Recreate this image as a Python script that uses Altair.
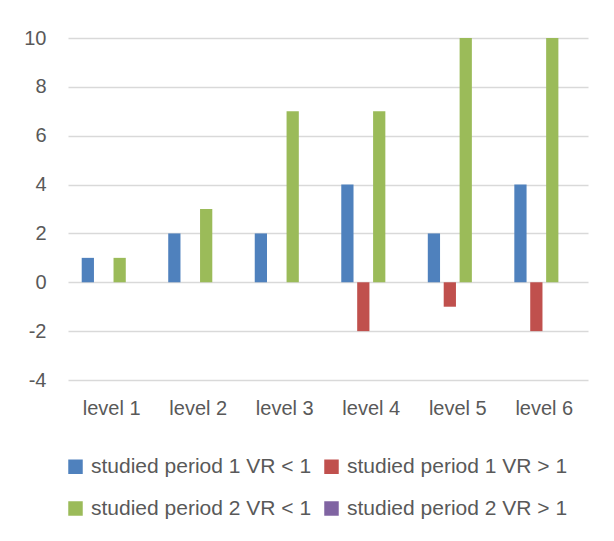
import altair as alt
import pandas as pd

levels = ["level 1", "level 2", "level 3", "level 4", "level 5", "level 6"]
series = [
    "studied period 1 VR < 1",
    "studied period 1 VR > 1",
    "studied period 2 VR < 1",
    "studied period 2 VR > 1",
]
p1_lt = [1, 2, 2, 4, 2, 4]
p1_gt = [0, 0, 0, -2, -1, -2]
p2_lt = [1, 3, 7, 7, 10, 10]
p2_gt = [0, 0, 0, 0, 0, 0]
colors = ["#4f81bd", "#c0504d", "#9bbb59", "#8064a2"]

rows = []
for s, vals in zip(series, [p1_lt, p1_gt, p2_lt, p2_gt]):
    for lv, v in zip(levels, vals):
        rows.append({"level": lv, "series": s, "value": v})
df = pd.DataFrame(rows)

font = "Liberation Sans"
fs = 20

chart = alt.Chart(df).mark_bar().encode(
    x=alt.X("level:N", sort=levels, title=None,
            scale=alt.Scale(paddingInner=0.27, paddingOuter=0.14),
            axis=alt.Axis(labelAngle=0, domain=False, ticks=False, grid=False,
                          labelFontSize=fs, labelColor="#595959", labelFont=font,
                          labelPadding=18)),
    xOffset=alt.XOffset("series:N", sort=series,
                        scale=alt.Scale(paddingInner=0.23, paddingOuter=0.1)),
    y=alt.Y("value:Q", title=None,
            scale=alt.Scale(domain=[-4, 10], nice=False),
            axis=alt.Axis(values=[-4, -2, 0, 2, 4, 6, 8, 10], domain=False, ticks=False,
                          gridColor="#d9d9d9", gridWidth=1.3,
                          labelExpr="toString(datum.value)",
                          labelFontSize=fs, labelColor="#595959", labelFont=font,
                          labelPadding=22)),
    color=alt.Color("series:N", sort=series,
                    scale=alt.Scale(domain=series, range=colors),
                    legend=alt.Legend(title=None, orient="none", legendX=-3, legendY=418,
                                      direction="horizontal",
                                      columns=2, columnPadding=9, rowPadding=20,
                                      symbolType="square", symbolSize=210,
                                      symbolStrokeWidth=0, labelFontSize=21,
                                      labelColor="#595959", labelFont=font,
                                      labelOffset=5, padding=0, labelLimit=400)),
).properties(
    width=520, height=342,
    autosize=alt.AutoSizeParams(type="none"),
    padding={"left": 60, "top": 30, "right": 18, "bottom": 153},
    background="white",
).configure_view(strokeWidth=0)

chart.save("out.html", embed_options={"renderer": "svg", "actions": False})
